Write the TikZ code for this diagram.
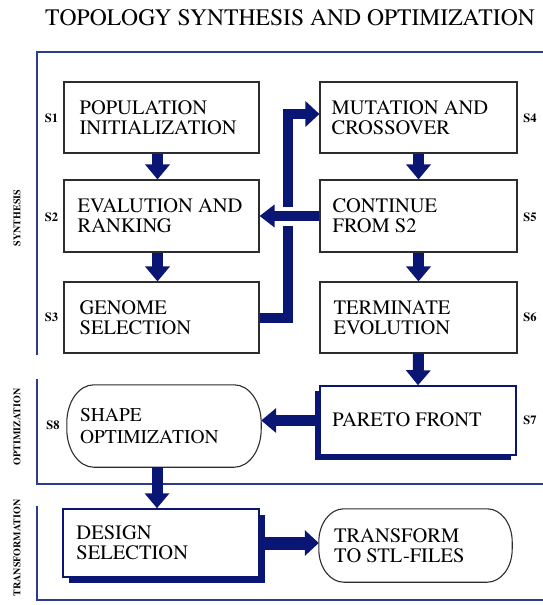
\documentclass[tikz,border=0pt]{standalone}
\usepackage{fontspec}
\IfFontExistsTF{texgyretermes-regular.otf}
  {\newfontfamily\timesfont{texgyretermes}[Extension=.otf, UprightFont=*-regular, BoldFont=*-bold, ItalicFont=*-italic, BoldItalicFont=*-bolditalic]}
  {\newfontfamily\timesfont{Liberation Serif}}
\usetikzlibrary{arrows.meta,shadows}
\definecolor{navy}{RGB}{10,22,115}
\definecolor{framec}{RGB}{45,60,145}
\definecolor{boxline}{RGB}{45,45,45}
% outline of a box with elliptic corners, drawn round a named node
\newcommand\mystadium[3]{%
  \pgfmathsetmacro\cxx{#2*0.4477}\pgfmathsetmacro\cyy{#3*0.4477}%
  \draw[rboxline] ([xshift=#2pt]#1.north west) -- ([xshift=-#2pt]#1.north east)
    .. controls ([xshift=-\cxx pt]#1.north east) and ([yshift=-\cyy pt]#1.north east) .. ([yshift=-#3pt]#1.north east)
    -- ([yshift=#3pt]#1.south east)
    .. controls ([yshift=\cyy pt]#1.south east) and ([xshift=-\cxx pt]#1.south east) .. ([xshift=-#2pt]#1.south east)
    -- ([xshift=#2pt]#1.south west)
    .. controls ([xshift=\cxx pt]#1.south west) and ([yshift=\cyy pt]#1.south west) .. ([yshift=#3pt]#1.south west)
    -- ([yshift=-#3pt]#1.north west)
    .. controls ([yshift=-\cyy pt]#1.north west) and ([xshift=\cxx pt]#1.north west) .. cycle;}
\begin{document}
\begin{tikzpicture}[x=1pt,y=-1pt,
  box/.style={draw=boxline, line width=1.1pt, fill=white, inner sep=0pt},
  bluebox/.style={draw=navy, line width=1.5pt, fill=white, inner sep=0pt},
  roundbox/.style={draw=none, inner sep=0pt},
  rboxline/.style={draw=boxline, line width=1.1pt, fill=white},
  txt/.style={anchor=west, inner sep=0pt, align=left, font=\timesfont\fontsize{20.5}{20}\selectfont},
  slab/.style={inner sep=0pt, font=\timesfont\fontsize{12.5}{13}\selectfont\bfseries},
  sidelab/.style={inner sep=0pt, rotate=90, font=\timesfont\fontsize{10}{10}\selectfont\bfseries},
  frameline/.style={draw=framec, line width=1.3pt},
  bigarrow/.style={draw=navy, line width=11pt, -{Triangle[width=24pt,length=15pt]}},
  hookarrow/.style={draw=navy, line width=10pt, line join=miter, -{Triangle[width=25pt,length=14pt]}},
  crossarrow/.style={draw=navy, line width=10pt, -{Triangle[width=22pt,length=15pt]}},
  widearrow/.style={draw=navy, line width=13pt, -{Triangle[width=25pt,length=14pt]}},
]
\useasboundingbox (0,0) rectangle (543,605);

% title
\node[anchor=base, inner sep=0pt, font=\timesfont\fontsize{23.6}{24}\selectfont] (title) at (290,25) {TOPOLOGY SYNTHESIS AND OPTIMIZATION};

% frames
\draw[frameline] (543,52) -- (37,52) -- (37,355);
\draw[frameline] (37,379) -- (37,484) -- (543,484);
\draw[frameline] (37,506) -- (37,600) -- (543,600);

% side labels
\node[sidelab] (lsyn) at (17,218) {SYNTHESIS};
\node[sidelab] (lopt) at (17,427) {OPTIMIZATION};
\node[sidelab] (ltra) at (17,548) {TRANSFORMATION};

% step labels
\node[slab] (l1) at (51.5,118) {S1};
\node[slab] (l2) at (51.5,217) {S2};
\node[slab] (l3) at (51.5,317) {S3};
\node[slab] (l4) at (530,118) {S4};
\node[slab] (l5) at (530,217) {S5};
\node[slab] (l6) at (530,317) {S6};
\node[slab] (l7) at (530,420) {S7};
\node[slab] (l8) at (53,425) {S8};

% boxes (geometry first, for anchors)
\path
  (161.5,117.5) node[box, minimum width=195pt, minimum height=71pt] (s1) {}
  (161.5,216)   node[box, minimum width=195pt, minimum height=72pt] (s2) {}
  (161.5,317.5) node[box, minimum width=195pt, minimum height=71pt] (s3) {}
  (418.5,117.5) node[box, minimum width=197pt, minimum height=71pt] (s4) {}
  (418.5,216)   node[box, minimum width=197pt, minimum height=72pt] (s5) {}
  (418.5,317.5) node[box, minimum width=197pt, minimum height=71pt] (s6) {};

% arrows
\coordinate (loopx) at (288,0);
\draw[hookarrow] (s3.east) -- (s3.east -| loopx) -- ([yshift=3.5pt]s4.west -| loopx) -- ([yshift=3.5pt]s4.west);
\draw[white, line width=19pt] (s5.west) -- ([xshift=18pt]s2.east);
\draw[crossarrow] (s5.west) -- (s2.east);
\draw[bigarrow] ([xshift=-4pt]s1.south) -- ([xshift=-4pt]s2.north);
\draw[bigarrow] ([xshift=-4pt]s2.south) -- ([xshift=-4pt]s3.north);
\draw[bigarrow] (s4.south) -- (s5.north);
\draw[bigarrow] (s5.south) -- (s6.north);

% redraw boxes on top
\node[box, minimum width=195pt, minimum height=71pt] (b1) at (s1) {};
\node[box, minimum width=195pt, minimum height=72pt] (b2) at (s2) {};
\node[box, minimum width=195pt, minimum height=71pt] (b3) at (s3) {};
\node[box, minimum width=197pt, minimum height=71pt] (b4) at (s4) {};
\node[box, minimum width=197pt, minimum height=72pt] (b5) at (s5) {};
\node[box, minimum width=197pt, minimum height=71pt] (b6) at (s6) {};

% lower boxes
\node[bluebox, minimum width=196pt, minimum height=69pt,
  drop shadow={shadow xshift=-5pt, shadow yshift=-5pt, fill=navy, draw=none, opacity=1}] (s7) at (418,420.5) {};
\node[roundbox, minimum width=194pt, minimum height=82pt] (s8) at (164,426) {};
\mystadium{s8}{27}{38}
\node[bluebox, minimum width=196pt, minimum height=68pt,
  drop shadow={shadow xshift=6pt, shadow yshift=-6pt, fill=navy, draw=none, opacity=1}] (ds) at (161,543) {};
\node[roundbox, minimum width=193pt, minimum height=73pt] (tr) at (415.5,545.5) {};
\mystadium{tr}{25}{33}

\draw[bigarrow] (s6.south) -- (s7.north);
\draw[bigarrow] (s7.west) -- (s7.west -| s8.east);
\draw[bigarrow] ([xshift=-7pt]s8.south) -- ([xshift=-4pt]ds.north);
\draw[widearrow] (ds.east) -- (ds.east -| tr.west);

% texts
\node[txt] (t1) at ([xshift=16pt]s1.west) {POPULATION\\INITIALIZATION};
\node[txt] (t2) at ([xshift=14pt]s2.west) {EVALUTION AND\\RANKING};
\node[txt] (t3) at ([xshift=16pt]s3.west) {GENOME\\SELECTION};
\node[txt] (t4) at ([xshift=12pt]s4.west) {MUTATION AND\\CROSSOVER};
\node[txt] (t5) at ([xshift=13pt]s5.west) {CONTINUE\\FROM S2};
\node[txt] (t6) at ([xshift=14pt]s6.west) {TERMINATE\\EVOLUTION};
\node[txt] (t7) at ([xshift=13pt,yshift=0.5pt]s7.west) {PARETO FRONT};
\node[txt, font=\timesfont\fontsize{19.5}{22}\selectfont] (t8) at ([xshift=13pt]s8.west) {SHAPE\\OPTIMIZATION};
\node[txt] (t9) at ([xshift=14pt]ds.west) {DESIGN\\SELECTION};
\node[txt] (t10) at ([xshift=15pt]tr.west) {TRANSFORM\\TO STL-FILES};
\end{tikzpicture}
\end{document}
